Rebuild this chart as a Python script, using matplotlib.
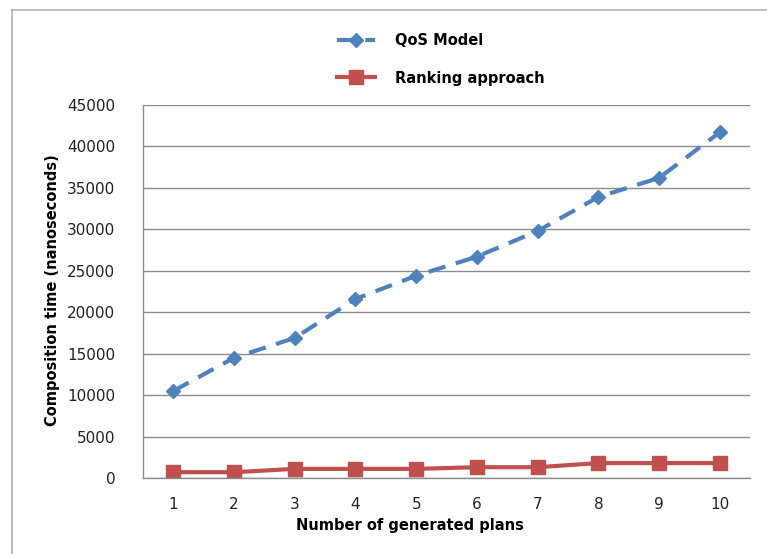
import numpy as np
import matplotlib.pyplot as plt
from matplotlib.lines import Line2D

# data
plans = [1, 2, 3, 4, 5, 6, 7, 8, 9, 10]
qos_model = [10500, 14500, 16900, 21600, 24400, 26700, 29800, 33900, 36200, 41700]
ranking = [700, 700, 1100, 1100, 1100, 1300, 1300, 1800, 1800, 1800]
y_ticks = [0, 5000, 10000, 15000, 20000, 25000, 30000, 35000, 40000, 45000]

blue = '#4F81BD'
red = '#C0504D'

fig = plt.figure(figsize=(7.67, 5.54), dpi=100)
ax = fig.add_axes([0.1864, 0.1372, 0.7916, 0.6733])

x = np.arange(len(plans))
ax.plot(x, qos_model, color=blue, linestyle=(0, (4.2, 2.6)), linewidth=3,
        marker='D', markersize=7.5, label='QoS Model')
ax.plot(x, ranking, color=red, linewidth=3,
        marker='s', markersize=10, label='Ranking approach')

ax.set_xlim(-0.5, len(plans) - 0.5)
ax.set_ylim(0, 45000)
ax.set_xticks(x)
ax.set_xticklabels([str(p) for p in plans])
ax.set_yticks(y_ticks)
ax.tick_params(axis='both', length=0, labelsize=11, colors='#222222')
ax.tick_params(axis='x', pad=14)
ax.tick_params(axis='y', pad=20)
ax.yaxis.grid(True, color='#8c8c8c', linewidth=1)
ax.set_axisbelow(True)
for side in ['top', 'right']:
    ax.spines[side].set_visible(False)
for side in ['left', 'bottom']:
    ax.spines[side].set_color('#8c8c8c')
    ax.spines[side].set_linewidth(1)

fig.text(0.068, 0.476, 'Composition time (nanoseconds)', rotation=90,
         ha='center', va='center', fontsize=10.5, fontweight='bold')
fig.text(0.535, 0.052, 'Number of generated plans', ha='center', va='center',
         fontsize=10.5, fontweight='bold')

fig.legend(loc='center', bbox_to_anchor=(0.575, 0.893), frameon=False,
           prop={'weight': 'bold', 'size': 10.5},
           handlelength=2.6, labelspacing=1.55, handletextpad=1.4)

# outer chart frame
fig.add_artist(Line2D([0.016, 0.016], [0.0, 0.982], color='#b0b0b0', linewidth=1.2))
fig.add_artist(Line2D([0.016, 1.0], [0.982, 0.982], color='#b0b0b0', linewidth=1.2))

fig.savefig('out.png', dpi=100)
